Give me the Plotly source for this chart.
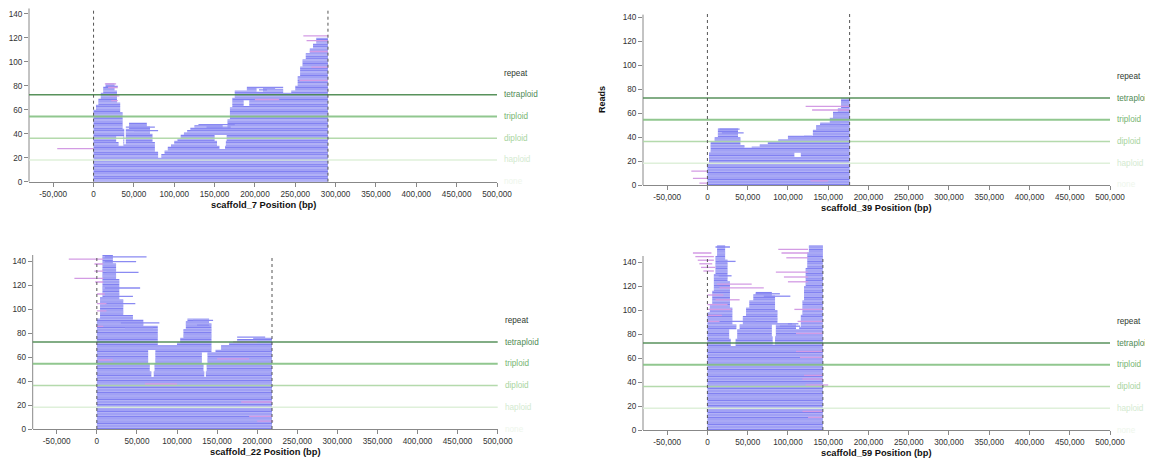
import plotly.graph_objects as go

# ---------------- data ----------------
SCAFFOLDS = ["scaffold_7", "scaffold_39", "scaffold_22", "scaffold_59"]
SCAFFOLD_LENGTH_KB = [290.5, 176.6, 218.5, 143.4]

PLOIDY_NAMES = ["none", "haploid", "diploid", "triploid", "tetraploid", "repeat"]
HAPLOID_DEPTH = 18.1

XTICK_VALS = [-50000, 0, 50000, 100000, 150000, 200000, 250000, 300000, 350000, 400000, 450000, 500000]
XTICK_TEXT = ["-50,000", "0", "50,000", "100,000", "150,000", "200,000", "250,000",
              "300,000", "350,000", "400,000", "450,000", "500,000"]
YTICK_VALS = [0, 20, 40, 60, 80, 100, 120, 140]

# read-stack outline: (start kb, top row reached from there on)
COV_S7 = [(0, 60), (3, 64), (6, 69), (9, 74), (12, 79), (15, 82), (26, 76), (29, 66), (33, 58), (36, 44),
          (38, 31), (40, 44), (44, 49), (66, 46), (70, 40), (73, 33), (76, 25), (80, 20), (84, 23), (88, 26),
          (92, 29), (96, 31), (100, 34), (104, 36), (108, 39), (112, 41), (116, 43), (120, 45), (125, 47),
          (140, 48), (150, 47), (160, 45), (166, 52), (169, 62), (172, 70), (175, 76), (190, 78), (202, 75),
          (210, 78), (225, 77), (235, 74), (245, 76), (250, 80), (253, 88), (256, 96), (259, 102), (263, 107),
          (268, 111), (272, 115), (276, 120)]
COV_S39 = [(0, 18), (2, 27), (4, 36), (9, 40), (13, 47), (38, 40), (41, 33), (46, 31), (55, 32), (65, 34),
           (75, 36), (88, 38), (100, 40), (120, 41), (131, 46), (135, 50), (140, 52), (152, 56), (156, 61),
           (162, 64), (166, 72)]
COV_S22 = [(0, 92), (4, 110), (7, 145), (20, 138), (24, 125), (28, 108), (33, 95), (45, 91), (58, 86),
           (76, 70), (100, 72), (104, 76), (108, 83), (111, 90), (113, 92), (140, 88), (143, 64), (148, 66),
           (155, 70), (165, 72), (175, 75), (195, 76)]
COV_S59 = [(0, 98), (3, 104), (6, 116), (8, 130), (10, 145), (12, 154), (22, 142), (25, 124), (28, 102),
           (31, 88), (36, 84), (40, 88), (44, 95), (48, 102), (52, 108), (57, 113), (60, 115), (80, 112),
           (84, 100), (87, 89), (105, 88), (110, 84), (114, 86), (116, 96), (118, 108), (120, 120),
           (122, 135), (124, 148), (126, 154)]

# empty pockets inside the stacks: (x0 kb, x1 kb, row0, row1)
HOLES_S7 = [(28, 37, 33, 37), (31, 37, 30, 32), (150, 165, 34, 38), (153, 164, 30, 33), (156, 163, 27, 29),
            (186, 193, 63, 67)]
HOLES_S39 = [(108, 116, 23, 26)]
HOLES_S22 = [(64, 73, 55, 65), (66, 72, 48, 54), (68, 71, 43, 47),
             (131, 138, 55, 63), (133, 137, 48, 54), (134, 136, 43, 47)]
HOLES_S59 = [(27, 37, 76, 83), (29, 35, 70, 75), (80, 85, 78, 87), (81, 84, 71, 77)]

# single reads overhanging the outline: (start kb, end kb, row)
LONG_S7 = [(15, 30, 79), (40, 76, 45), (50, 80, 42), (130, 175, 47), (140, 170, 45), (190, 235, 78), (205, 215, 76)]
LONG_S39 = [(15, 40, 46), (18, 45, 43), (100, 130, 40), (140, 165, 50)]
LONG_S22 = [(10, 62, 143), (10, 49, 139), (12, 52, 130), (10, 54, 117), (10, 45, 110), (10, 48, 104),
            (30, 78, 88), (35, 70, 84), (120, 145, 90), (125, 140, 86), (175, 210, 76)]
LONG_S59 = [(10, 28, 152), (14, 35, 140), (14, 30, 128), (60, 90, 113), (70, 103, 111), (100, 113, 88),
            (30, 60, 90), (90, 115, 86)]

# pink (clipped / low quality) reads: (start kb, end kb, row)
PINK_S7 = [(-45, 0, 27), (14, 28, 81), (18, 30, 78), (20, 32, 71), (22, 30, 67), (260, 290.5, 121),
           (264, 290.5, 117), (268, 290.5, 108), (270, 290.5, 95), (255, 290.5, 84), (200, 230, 68)]
PINK_S39 = [(-20, 0, 11), (-18, 0, 5), (-10, 0, 1), (122, 176.6, 65), (130, 176.6, 62), (128, 150, 3)]
PINK_S22 = [(-35, 8, 141), (-28, 8, 125), (-3, 8, 137), (-3, 8, 131), (-2, 8, 122), (0, 10, 112),
            (0, 12, 104), (0, 12, 98), (0, 8, 85), (2, 20, 57), (180, 218.5, 22), (190, 218.5, 10),
            (200, 220, 6), (150, 190, 58), (60, 100, 37), (170, 200, 72)]
PINK_S59 = [(-18, 5, 147), (-15, 8, 144), (-12, 8, 141), (-10, 6, 138), (-8, 10, 135), (-5, 8, 132),
            (15, 70, 118), (12, 55, 121), (10, 40, 108), (0, 20, 112), (0, 25, 104), (0, 30, 100),
            (0, 18, 95), (0, 15, 90), (88, 125, 150), (92, 125, 147), (98, 125, 143), (85, 125, 131),
            (95, 125, 127), (100, 125, 123), (108, 143.4, 100), (112, 143.4, 90), (110, 143.4, 80),
            (120, 143.4, 45), (122, 150, 37), (118, 143.4, 42), (125, 143.4, 10), (118, 143.4, 15),
            (110, 143.4, 65), (115, 143.4, 60)]

COVS = [COV_S7, COV_S39, COV_S22, COV_S59]
HOLES = [HOLES_S7, HOLES_S39, HOLES_S22, HOLES_S59]
LONGS = [LONG_S7, LONG_S39, LONG_S22, LONG_S59]
PINKS = [PINK_S7, PINK_S39, PINK_S22, PINK_S59]

# ---------------- layout (pixels, in page coordinates) ----------------
PAGE_OFFSET = 8            # default body margin of the html page
W, H = 1153 - PAGE_OFFSET, 461 - PAGE_OFFSET
PX_PER_ROW = 1.2
PANELS = [
    dict(x0=29, x1=497, ybot=181.7, ytop=144.5, axis_top=144.5),
    dict(x0=643, x1=1110, ybot=185, ytop=147, axis_top=142),
    dict(x0=32.7, x1=497.7, ybot=429, ytop=158, axis_top=145),
    dict(x0=643, x1=1110, ybot=430, ytop=158, axis_top=145),
]
FONT = "Liberation Sans, Arial, sans-serif"
PLOIDY_LINE = {1: ("#dcefd6", 1.6), 2: ("#acd7a4", 1.5), 3: ("#86c283", 2.0), 4: ("#47874b", 1.5)}
PLOIDY_TEXT = ["#eef6ec", "#d3ead0", "#a8d4a0", "#76b572", "#4f8a55", "#2f3a30"]


def clamp(v):
    return min(1.0, max(0.0, v))


def px_x(v):
    return clamp((v - PAGE_OFFSET) / W)


def px_y(v):
    return clamp(1 - (v - PAGE_OFFSET) / H)


def stack_rows(cov, length_kb, holes):
    xs = [p[0] for p in cov] + [length_kb]
    hs = [p[1] for p in cov]
    rows = []
    for r in range(max(hs)):
        segs = []
        for i, h in enumerate(hs):
            if h > r:
                a, b = xs[i], xs[i + 1]
                if segs and abs(segs[-1][1] - a) < 1e-9:
                    segs[-1][1] = b
                else:
                    segs.append([a, b])
        for hx0, hx1, hr0, hr1 in holes:
            if hr0 <= r <= hr1:
                new = []
                for a, b in segs:
                    if hx1 <= a or hx0 >= b:
                        new.append([a, b])
                        continue
                    if a < hx0:
                        new.append([a, hx0])
                    if b > hx1:
                        new.append([hx1, b])
                segs = new
        rows.append(segs)
    return rows


def seg_xy(items):
    xs, ys = [], []
    for a, b, r in items:
        xs += [a * 1000, b * 1000, None]
        ys += [r + 0.5, r + 0.5, None]
    return xs, ys


fig = go.Figure()
shapes, annotations = [], []

for i, name in enumerate(SCAFFOLDS):
    n = i + 1
    sx = "" if n == 1 else str(n)
    xa, ya = "x" + sx, "y" + sx
    P = PANELS[i]
    L = SCAFFOLD_LENGTH_KB[i]
    rows = stack_rows(COVS[i], L, HOLES[i])
    even, odd = [], []
    for r, segs in enumerate(rows):
        for a, b in segs:
            (even if r % 2 == 0 else odd).append((a, b, r))
    for items, col in [(even, "#8181f1"), (odd, "#a2a2f5"), (LONGS[i], "#8a8af2"), (PINKS[i], "#d39be4")]:
        x, y = seg_xy(items)
        fig.add_trace(go.Scatter(x=x, y=y, mode="lines", line=dict(color=col, width=1.3),
                                 xaxis=xa, yaxis=ya, hoverinfo="skip", showlegend=False))

    dom_x = [px_x(P["x0"]), px_x(P["x1"])]
    dom_y = [px_y(P["ybot"]), px_y(P["ybot"] - P["ytop"] * PX_PER_ROW)]
    fig.layout["xaxis" + sx] = dict(
        domain=dom_x, anchor=ya, range=[-80000, 500000], tickvals=XTICK_VALS, ticktext=XTICK_TEXT,
        ticks="outside", ticklen=4, tickcolor="#888", showline=True, linecolor="#888", linewidth=1,
        showgrid=False, zeroline=False, automargin=False,
        tickfont=dict(size=8.2, color="#333", family=FONT))
    fig.layout["yaxis" + sx] = dict(
        domain=dom_y, anchor=xa, range=[0, P["ytop"]], tickvals=YTICK_VALS,
        ticks="outside", ticklen=4, tickcolor="#888", showline=False,
        showgrid=False, zeroline=False, automargin=False,
        tickfont=dict(size=8.2, color="#333", family=FONT))

    # y axis line
    shapes.append(dict(type="line", xref=xa + " domain", yref=ya, x0=0, x1=0, y0=0, y1=P["axis_top"],
                       line=dict(color="#888", width=1)))
    # ploidy lines
    for k, (col, w) in PLOIDY_LINE.items():
        shapes.append(dict(type="line", xref=xa + " domain", yref=ya, x0=0, x1=1,
                           y0=k * HAPLOID_DEPTH, y1=k * HAPLOID_DEPTH, layer="above",
                           line=dict(color=col, width=w), opacity=0.9))
    # scaffold boundaries
    for xb in [0, L * 1000]:
        shapes.append(dict(type="line", xref=xa, yref=ya, x0=xb, x1=xb, y0=0, y1=143, layer="above",
                           line=dict(color="#555", width=1, dash="3px,3px")))
    # ploidy labels
    for k, lab in enumerate(PLOIDY_NAMES):
        annotations.append(dict(xref=xa + " domain", yref=ya, x=1, y=k * HAPLOID_DEPTH, xshift=5,
                                xanchor="left", yanchor="middle", text=lab, showarrow=False,
                                font=dict(size=8.2, color=PLOIDY_TEXT[k], family=FONT)))
    # x title
    annotations.append(dict(xref=xa + " domain", yref=ya + " domain", x=0.5, y=0, yshift=-23,
                            xanchor="center", yanchor="middle", showarrow=False,
                            text="<b>%s Position (bp)</b>" % name,
                            font=dict(size=9.3, color="#111", family=FONT)))

annotations.append(dict(xref="paper", yref="paper", x=px_x(602), y=px_y(100), textangle=-90,
                        xanchor="center", yanchor="middle", showarrow=False, text="<b>Reads</b>",
                        font=dict(size=9, color="#111", family=FONT)))

fig.update_layout(width=W, height=H, margin=dict(l=0, r=0, t=0, b=0, autoexpand=False),
                  paper_bgcolor="white", plot_bgcolor="white",
                  shapes=shapes, annotations=annotations, showlegend=False)
fig.write_html("out.html")
